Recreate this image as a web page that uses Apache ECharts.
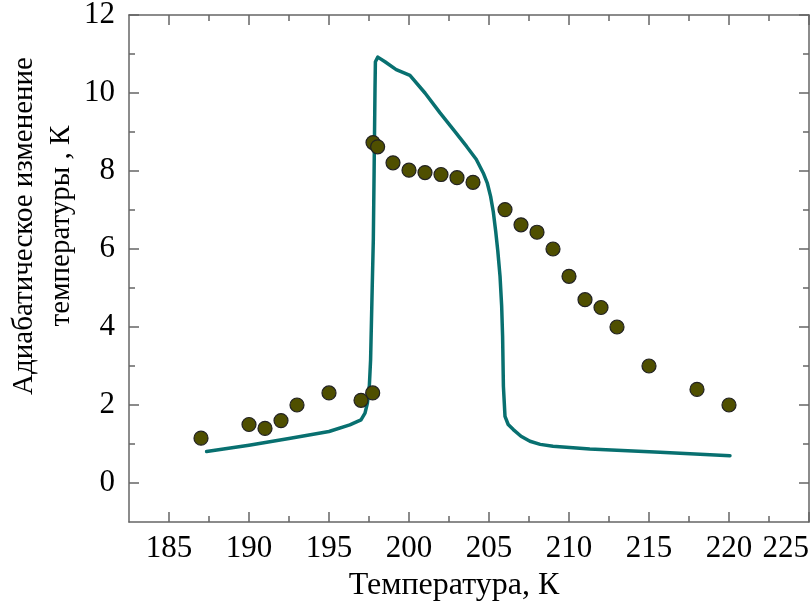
<!DOCTYPE html>
<html><head><meta charset="utf-8">
<script src="https://cdn.jsdelivr.net/npm/echarts@6/dist/echarts.min.js"></script>
<style>html,body{margin:0;padding:0;background:#fff}#c{width:810px;height:607px}</style>
</head><body><div id="c"></div>
<script>
// Experimental points (T, dT)
const pointsT = [187,190,191,192,193,195,197,197.73,197.75,198.04,199,200,201,202,203,204,206,207,208,209,210,211,212,213,215,218,220];
const pointsDT = [1.15,1.5,1.4,1.6,2.0,2.31,2.12,2.31,8.73,8.62,8.21,8.02,7.96,7.91,7.83,7.71,7.01,6.62,6.43,6.0,5.3,4.7,4.5,4.0,3.0,2.4,2.0];
// Calculated curve
const curveT = [187.35,190,192.5,195,196.3,197.0,197.25,197.4,197.52,197.6,197.7,197.77,197.82,197.875,197.9,198.05,198.5,199.2,200.06,201,201.94,202.8,203.6,204.2,204.64,204.9,205.1,205.27,205.42,205.55,205.69,205.79,205.85,205.9,206.0,206.2,206.52,207,207.56,208.2,209,211.3,215.69,220.06];
const curveDT = [0.81,0.97,1.14,1.32,1.49,1.62,1.79,2.05,2.48,3.16,5.0,6.24,8.0,10.09,10.8,10.92,10.8,10.6,10.45,10.0,9.49,9.05,8.63,8.3,7.95,7.68,7.35,6.95,6.45,5.95,5.3,4.55,3.76,2.48,1.71,1.5,1.37,1.2,1.07,0.99,0.94,0.87,0.79,0.70];
const xMajor = [185,190,195,200,205,210,215,220,225];
const xMinor = [187.5,192.5,197.5,202.5,207.5,212.5,217.5,222.5];
const yMajor = [0,2,4,6,8,10,12];
const yMinor = [1,3,5,7,9,11];
const xTitle = 'Температура, К';
const yTitle = 'Адиабатическое изменение\nтемпературы , К';

const font = 'Liberation Serif';
const lineCol = '#666';
function xAx(pos, ticks, len, labels, showLine) {
  return {type:'value', position:pos, min:182.5, max:225,
    axisLine:{show:showLine, onZero:false, lineStyle:{color:lineCol, width:1.5}},
    axisTick:{show:true, inside:true, length:len, customValues:ticks, lineStyle:{color:lineCol, width:1.5}},
    axisLabel:{show:labels, customValues:ticks, color:'#000', fontFamily:font, fontSize:31, margin:11, hideOverlap:false, alignMaxLabel:'right'},
    splitLine:{show:false}};
}
function yAx(pos, ticks, len, labels, showLine) {
  return {type:'value', position:pos, min:-1, max:12,
    axisLine:{show:showLine, onZero:false, lineStyle:{color:lineCol, width:1.5}},
    axisTick:{show:true, inside:true, length:len, customValues:ticks, lineStyle:{color:lineCol, width:1.5}},
    axisLabel:{show:labels, customValues:ticks, color:'#000', fontFamily:font, fontSize:31, margin:14},
    splitLine:{show:false}};
}
const chart = echarts.init(document.getElementById('c'));
chart.setOption({
  animation:false,
  grid:{left:129, right:1, top:15, bottom:85, containLabel:false, outerBoundsMode:'none'},
  xAxis:[xAx('bottom', xMajor, 10, true, true), xAx('bottom', xMinor, 6, false, false),
         xAx('top', xMajor, 10, false, true), xAx('top', xMinor, 6, false, false)],
  yAxis:[yAx('left', yMajor, 10, true, true), yAx('left', yMinor, 6, false, false),
         yAx('right', yMajor, 10, false, true), yAx('right', yMinor, 6, false, false)],
  graphic:[
    {type:'text', x:43, y:226, rotation:Math.PI/2,
     style:{text:yTitle, font:'29px "Liberation Serif"', fill:'#000', textAlign:'center', textVerticalAlign:'middle', lineHeight:37}},
    {type:'text', x:454, y:586,
     style:{text:xTitle, font:'32px "Liberation Serif"', fill:'#000', textAlign:'center', textVerticalAlign:'middle'}}
  ],
  series:[
    {type:'line', xAxisIndex:0, yAxisIndex:0, data:curveT.map((t,i)=>[t,curveDT[i]]),
     showSymbol:false, smooth:false, lineStyle:{color:'#087070', width:3.5, join:'round', cap:'round'}, z:2},
    {type:'scatter', xAxisIndex:0, yAxisIndex:0, data:pointsT.map((t,i)=>[t,pointsDT[i]]),
     symbolSize:14, itemStyle:{color:'#4f4f00', borderColor:'#222', borderWidth:1.2, opacity:1}, z:3}
  ]
});
</script></body></html>
